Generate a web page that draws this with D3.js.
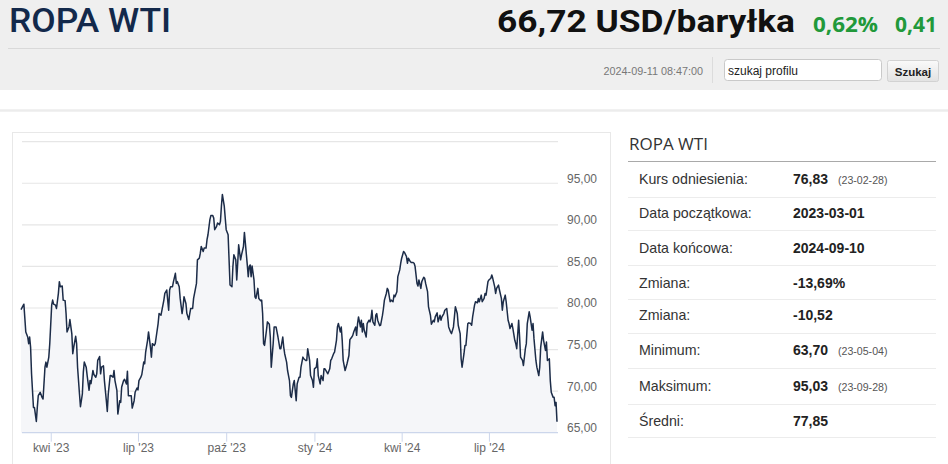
<!DOCTYPE html>
<html><head><meta charset="utf-8">
<script src="https://cdn.jsdelivr.net/npm/d3@7"></script>
<style>html,body{margin:0;padding:0;background:#fff;overflow:hidden}</style>
</head><body><div id="c"></div>
<script>
const dates = [
"2023-03-01","2023-03-04","2023-03-06","2023-03-08","2023-03-09","2023-03-10","2023-03-11","2023-03-12","2023-03-14","2023-03-15","2023-03-17","2023-03-18","2023-03-19","2023-03-21","2023-03-23","2023-03-24","2023-03-26","2023-03-27","2023-03-28","2023-03-30","2023-03-31",
"2023-04-02","2023-04-03","2023-04-04","2023-04-06","2023-04-07","2023-04-09","2023-04-10","2023-04-11","2023-04-13","2023-04-14","2023-04-16","2023-04-17","2023-04-18","2023-04-20","2023-04-21","2023-04-23","2023-04-24","2023-04-25","2023-04-27","2023-04-28","2023-04-29",
"2023-05-01","2023-05-02","2023-05-04","2023-05-05","2023-05-06","2023-05-08","2023-05-09","2023-05-11","2023-05-12","2023-05-13","2023-05-15","2023-05-16","2023-05-18","2023-05-19","2023-05-20","2023-05-22","2023-05-23","2023-05-24","2023-05-26","2023-05-27","2023-05-29","2023-05-30","2023-05-31",
"2023-06-02","2023-06-03","2023-06-05","2023-06-06","2023-06-07","2023-06-09","2023-06-10","2023-06-12","2023-06-13","2023-06-14","2023-06-16","2023-06-17","2023-06-19","2023-06-20","2023-06-21","2023-06-23","2023-06-24","2023-06-25","2023-06-27","2023-06-28","2023-06-30",
"2023-07-01","2023-07-02","2023-07-04","2023-07-05","2023-07-07","2023-07-08","2023-07-09","2023-07-11","2023-07-12","2023-07-14","2023-07-15","2023-07-16","2023-07-18","2023-07-19","2023-07-20","2023-07-22","2023-07-23","2023-07-25","2023-07-26","2023-07-28","2023-07-29","2023-07-31",
"2023-08-01","2023-08-02","2023-08-03","2023-08-04","2023-08-06","2023-08-07","2023-08-09","2023-08-10","2023-08-11","2023-08-13","2023-08-14","2023-08-16","2023-08-17","2023-08-18","2023-08-20","2023-08-21","2023-08-23","2023-08-24","2023-08-25","2023-08-27","2023-08-28","2023-08-29","2023-08-31",
"2023-09-01","2023-09-03","2023-09-04","2023-09-05","2023-09-07","2023-09-08","2023-09-10","2023-09-11","2023-09-12","2023-09-14","2023-09-15","2023-09-17","2023-09-18","2023-09-19","2023-09-21","2023-09-22","2023-09-24","2023-09-25","2023-09-26","2023-09-27","2023-09-29","2023-09-30",
"2023-10-01","2023-10-03","2023-10-04","2023-10-05","2023-10-07","2023-10-08","2023-10-09","2023-10-11","2023-10-12","2023-10-13","2023-10-14","2023-10-16","2023-10-17","2023-10-19","2023-10-20","2023-10-21","2023-10-23","2023-10-24","2023-10-25","2023-10-26","2023-10-27","2023-10-28","2023-10-30","2023-10-31",
"2023-11-01","2023-11-03","2023-11-04","2023-11-06","2023-11-07","2023-11-08","2023-11-09","2023-11-10","2023-11-12","2023-11-13","2023-11-15","2023-11-16","2023-11-17","2023-11-19","2023-11-20","2023-11-22","2023-11-23","2023-11-24","2023-11-26","2023-11-27","2023-11-29","2023-11-30",
"2023-12-01","2023-12-03","2023-12-04","2023-12-06","2023-12-07","2023-12-08","2023-12-10","2023-12-11","2023-12-13","2023-12-14","2023-12-16","2023-12-17","2023-12-18","2023-12-20","2023-12-21","2023-12-23","2023-12-24","2023-12-25","2023-12-27","2023-12-28","2023-12-30","2023-12-31",
"2024-01-01","2024-01-03","2024-01-04","2024-01-05","2024-01-07","2024-01-08","2024-01-10","2024-01-11","2024-01-12","2024-01-14","2024-01-15","2024-01-17","2024-01-18","2024-01-19","2024-01-21","2024-01-22","2024-01-24","2024-01-25","2024-01-26","2024-01-28","2024-01-29","2024-01-30","2024-01-31",
"2024-02-02","2024-02-03","2024-02-04","2024-02-06","2024-02-07","2024-02-09","2024-02-10","2024-02-11","2024-02-13","2024-02-14","2024-02-15","2024-02-16","2024-02-18","2024-02-19","2024-02-20","2024-02-21","2024-02-22","2024-02-24","2024-02-25","2024-02-27","2024-02-28","2024-02-29",
"2024-03-01","2024-03-02","2024-03-04","2024-03-05","2024-03-06","2024-03-07","2024-03-09","2024-03-10","2024-03-12","2024-03-13","2024-03-14","2024-03-16","2024-03-17","2024-03-18","2024-03-20","2024-03-21","2024-03-23","2024-03-24","2024-03-25","2024-03-27","2024-03-28","2024-03-30","2024-03-31",
"2024-04-01","2024-04-03","2024-04-04","2024-04-06","2024-04-07","2024-04-08","2024-04-10","2024-04-11","2024-04-13","2024-04-14","2024-04-15","2024-04-17","2024-04-18","2024-04-19","2024-04-21","2024-04-22","2024-04-24","2024-04-25","2024-04-26","2024-04-28","2024-04-29",
"2024-05-01","2024-05-02","2024-05-04","2024-05-05","2024-05-06","2024-05-08","2024-05-09","2024-05-11","2024-05-12","2024-05-13","2024-05-15","2024-05-16","2024-05-18","2024-05-19","2024-05-20","2024-05-22","2024-05-23","2024-05-25","2024-05-26","2024-05-27","2024-05-29","2024-05-30",
"2024-06-01","2024-06-02","2024-06-03","2024-06-05","2024-06-06","2024-06-07","2024-06-09","2024-06-10","2024-06-12","2024-06-13","2024-06-14","2024-06-16","2024-06-17","2024-06-19","2024-06-20","2024-06-21","2024-06-23","2024-06-24","2024-06-26","2024-06-27","2024-06-28","2024-06-30",
"2024-07-01","2024-07-03","2024-07-04","2024-07-05","2024-07-07","2024-07-08","2024-07-09","2024-07-11","2024-07-12","2024-07-14","2024-07-15","2024-07-16","2024-07-18","2024-07-19","2024-07-21","2024-07-22","2024-07-23","2024-07-25","2024-07-26","2024-07-28","2024-07-29","2024-07-30",
"2024-08-01","2024-08-02","2024-08-03","2024-08-05","2024-08-06","2024-08-08","2024-08-09","2024-08-10","2024-08-12","2024-08-13","2024-08-15","2024-08-16","2024-08-17","2024-08-19","2024-08-20","2024-08-22","2024-08-23","2024-08-24","2024-08-26","2024-08-27","2024-08-29","2024-08-30","2024-08-31",
"2024-09-02","2024-09-03","2024-09-04","2024-09-06","2024-09-07","2024-09-08","2024-09-09","2024-09-10"
];
const prices = [
79.8,80.46,77.12,76.51,75.71,76.51,75.30,72.08,68.04,68.04,66.35,68.04,69.45,69.86,69.25,69.05,72.88,73.49,72.88,74.09,75.71,
80.34,80.95,80.46,80.34,79.94,81.76,83.17,82.56,82.64,80.95,80.87,79.33,77.12,77.72,78.61,76.92,74.50,75.30,76.59,75.71,72.88,
69.66,68.12,69.66,72.28,73.49,72.88,71.87,70.10,71.27,70.90,72.48,72.00,71.67,72.08,73.69,74.17,72.08,72.88,73.04,71.27,68.85,67.56,69.66,
71.87,71.87,71.67,72.48,71.27,70.10,67.24,68.85,68.65,70.50,71.27,71.43,70.85,72.40,69.45,69.45,69.45,67.96,68.85,69.86,70.38,
70.14,71.27,71.67,72.00,73.49,73.29,74.70,76.11,77.12,75.30,74.09,75.71,75.50,75.71,76.51,78.13,79.33,79.13,79.73,80.95,81.75,82.16,
80.95,79.73,82.16,82.56,82.56,83.17,84.17,82.96,83.17,82.56,81.15,79.33,80.14,81.35,80.54,79.33,78.61,79.33,79.94,79.94,81.15,81.75,82.96,
85.79,85.99,86.59,87.40,86.79,87.20,87.20,88.21,88.81,90.63,91.11,91.11,90.83,89.42,89.82,90.22,90.02,90.42,92.24,93.65,92.24,90.83,
89.42,88.81,85.79,82.76,82.56,84.98,86.39,85.79,83.37,85.38,87.60,85.79,86.39,87.40,89.09,87.80,85.18,83.77,84.98,85.18,83.77,85.06,83.37,81.35,
81.15,82.36,81.15,80.87,80.95,79.33,75.71,75.50,77.32,78.33,78.04,76.51,72.88,75.71,77.72,77.72,77.12,76.51,75.10,75.10,76.51,75.30,
74.50,73.49,72.48,71.27,69.45,69.25,70.87,71.27,68.85,70.87,71.67,71.67,72.88,74.09,73.89,73.69,73.69,75.10,73.69,71.87,71.27,70.46,
72.68,72.88,73.89,71.87,70.87,71.87,71.27,72.68,72.68,72.28,72.08,72.68,73.69,73.89,74.50,74.70,76.11,77.72,78.13,77.12,77.72,76.11,73.69,
72.48,72.88,73.29,74.29,76.19,76.51,76.71,77.12,77.72,76.71,78.13,78.93,77.72,78.53,77.12,78.13,77.32,76.51,78.13,78.53,78.33,78.73,
79.73,78.33,77.92,79.13,79.33,78.53,77.88,77.92,79.13,79.94,80.95,81.75,82.36,82.16,80.75,80.95,80.75,81.55,81.35,81.96,83.77,84.58,85.38,
85.99,86.79,86.67,86.19,85.38,85.99,85.58,85.46,85.46,85.38,84.98,82.96,82.64,83.37,82.36,83.17,83.69,83.57,82.96,81.96,80.14,
79.13,78.04,78.53,78.33,78.93,79.42,78.33,79.13,78.53,78.93,79.33,79.73,79.94,78.93,77.72,77.12,76.92,77.72,78.93,80.14,79.33,77.92,
76.92,73.89,72.88,74.50,75.50,75.50,78.13,78.21,78.13,77.92,78.93,80.34,80.75,80.62,81.15,80.75,81.55,80.75,81.15,81.75,81.55,83.17,
83.37,83.57,83.97,83.57,82.56,81.75,82.36,82.76,82.16,81.15,79.73,80.75,81.55,80.75,78.53,78.13,77.52,78.13,77.52,76.11,75.71,75.10,
78.53,76.51,74.09,73.69,73.08,75.10,75.71,78.13,79.54,78.93,77.32,78.13,76.31,73.69,72.88,71.87,72.88,75.30,77.12,76.11,74.90,75.91,73.69,
73.89,71.27,69.86,69.25,69.25,68.24,68.65,66.31
];
const tickDates = ["2023-04-01","2023-07-01","2023-10-01","2024-01-01","2024-04-01","2024-07-01"];
const tickLabels = ["kwi '23","lip '23","paź '23","sty '24","kwi '24","lip '24"];
const gridValues = [70,75,80,85,90,95,100];
const yLabelValues = [65,70,75,80,85,90,95];
const statLabels = ["Kurs odniesienia:","Data początkowa:","Data końcowa:","Zmiana:","Zmiana:","Minimum:","Maksimum:","Średni:"];
const statValues = ["76,83","2023-03-01","2024-09-10","-13,69%","-10,52","63,70","95,03","77,85"];
const statNotes = ["(23-02-28)","","","","","(23-05-04)","(23-09-28)",""];
const instrumentName = "ROPA WTI";
const lastPrice = "66,72 USD/baryłka";
const changePct = "0,62%";
const changeAbs = "0,41";
const timestamp = "2024-09-11 08:47:00";

const W = 948, H = 464;
const parse = d3.utcParse("%Y-%m-%d");
const data = dates.map((d, i) => ({ date: parse(d), v: prices[i] }));

const svg = d3.select("#c").append("svg").attr("width", W).attr("height", H).style("display", "block");
const sans = "'Liberation Sans', Arial, sans-serif";
const head = "Roboto, 'Open Sans', sans-serif";
const head2 = "'Open Sans', 'DejaVu Sans', sans-serif";

// ---------- header ----------
svg.append("rect").attr("x", 0).attr("y", 0).attr("width", W).attr("height", 90).attr("fill", "#efefef");
svg.append("text").attr("x", 9).attr("y", 32.3).text(instrumentName)
  .attr("font-family", head).attr("font-weight", 500).attr("font-size", 34).attr("fill", "#13294b")
  .attr("textLength", 162).attr("lengthAdjust", "spacingAndGlyphs");
svg.append("text").attr("x", 497).attr("y", 31.7).text(lastPrice)
  .attr("font-family", head).attr("font-weight", 700).attr("font-size", 31).attr("fill", "#111")
  .attr("textLength", 298).attr("lengthAdjust", "spacingAndGlyphs");
svg.append("text").attr("x", 813).attr("y", 31.5).text(changePct)
  .attr("font-family", head2).attr("font-weight", 700).attr("font-size", 22).attr("fill", "#21993a")
  .attr("textLength", 65).attr("lengthAdjust", "spacingAndGlyphs");
svg.append("text").attr("x", 895).attr("y", 31.5).text(changeAbs)
  .attr("font-family", head2).attr("font-weight", 700).attr("font-size", 22).attr("fill", "#21993a")
  .attr("textLength", 42).attr("lengthAdjust", "spacingAndGlyphs");
svg.append("line").attr("x1", 8).attr("x2", 940).attr("y1", 48.5).attr("y2", 48.5).attr("stroke", "#d9d9d9");
svg.append("text").attr("x", 703).attr("y", 74.5).attr("text-anchor", "end").text(timestamp)
  .attr("font-family", sans).attr("font-size", 10.8).attr("fill", "#777");
svg.append("line").attr("x1", 712.5).attr("x2", 712.5).attr("y1", 57).attr("y2", 83).attr("stroke", "#dcdcdc");
svg.append("rect").attr("x", 724.5).attr("y", 59.5).attr("width", 157).attr("height", 21).attr("rx", 3)
  .attr("fill", "#fff").attr("stroke", "#c9c9c9");
svg.append("text").attr("x", 728).attr("y", 74.5).text("szukaj profilu")
  .attr("font-family", sans).attr("font-size", 12).attr("fill", "#222");
const defs = svg.append("defs");
const g1 = defs.append("linearGradient").attr("id", "btn").attr("x1", 0).attr("x2", 0).attr("y1", 0).attr("y2", 1);
g1.append("stop").attr("offset", "0").attr("stop-color", "#fafafa");
g1.append("stop").attr("offset", "1").attr("stop-color", "#e2e2e2");
svg.append("rect").attr("x", 887.5).attr("y", 60.5).attr("width", 51).attr("height", 21).attr("rx", 2)
  .attr("fill", "url(#btn)").attr("stroke", "#d2d2d2");
svg.append("text").attr("x", 913).attr("y", 75.5).attr("text-anchor", "middle").text("Szukaj")
  .attr("font-family", sans).attr("font-weight", 700).attr("font-size", 11.5).attr("fill", "#222");
svg.append("line").attr("x1", 0).attr("x2", W).attr("y1", 110.5).attr("y2", 110.5).attr("stroke", "#ececec").attr("stroke-width", 2.5);

// ---------- chart box ----------
svg.append("rect").attr("x", 12.5).attr("y", 132.5).attr("width", 598).attr("height", 345)
  .attr("fill", "#fff").attr("stroke", "#e8e8e8");

const plotL = 22, plotR = 558;
const x = d3.scaleUtc().domain([parse("2023-03-01"), parse("2024-09-10")]).range([21, 557]);
const y = d3.scaleLinear().domain([65, 100]).range([432.7, 141.7]);

const grid = svg.append("g");
grid.selectAll("line").data(gridValues).join("line")
  .attr("x1", plotL).attr("x2", plotR).attr("y1", d => y(d)).attr("y2", d => y(d))
  .attr("stroke", "#e6e6e6").attr("stroke-width", 1.2);

const area = d3.area().x(d => x(d.date)).y0(y(65)).y1(d => y(d.v));
svg.append("path").datum(data).attr("d", area).attr("fill", "#f5f6f9");
const line = d3.line().x(d => x(d.date)).y(d => y(d.v));
svg.append("path").datum(data).attr("d", line).attr("fill", "none")
  .attr("stroke", "#1c2c48").attr("stroke-width", 1.5).attr("stroke-linejoin", "round");

// x axis
svg.append("line").attr("x1", plotL).attr("x2", plotR).attr("y1", y(65)).attr("y2", y(65))
  .attr("stroke", "#ccd6eb").attr("stroke-width", 1.2);
const xAxis = d3.axisBottom(x).tickValues(tickDates.map(parse))
  .tickFormat((d, i) => tickLabels[i]).tickSize(9).tickSizeOuter(0);
const gx = svg.append("g").attr("transform", `translate(0,${y(65)})`).call(xAxis);
gx.select(".domain").remove();
gx.selectAll(".tick line").attr("stroke", "#ccd6eb");
gx.selectAll(".tick text").attr("y", 19).attr("dy", 0)
  .attr("font-family", sans).attr("font-size", 12).attr("fill", "#666");

// y labels
const yAxis = d3.axisRight(y).tickValues(yLabelValues)
  .tickFormat(d => d3.format(".2f")(d).replace(".", ",")).tickSize(0).tickPadding(9);
const gy = svg.append("g").attr("transform", `translate(${plotR},0)`).call(yAxis);
gy.select(".domain").remove();
gy.selectAll(".tick text").attr("dy", -1)
  .attr("font-family", sans).attr("font-size", 12).attr("fill", "#666");

// ---------- side panel ----------
svg.append("text").attr("x", 629).attr("y", 150).text(instrumentName)
  .attr("font-family", head2).attr("font-size", 17).attr("fill", "#333");
svg.append("line").attr("x1", 628).attr("x2", 936).attr("y1", 161.5).attr("y2", 161.5)
  .attr("stroke", "#a9a9a9").attr("stroke-width", 1.2);
const rowBase = [184.3, 218.3, 252.7, 288.3, 320, 355, 390.7, 426];
const rowSep = [197.5, 230.5, 265.5, 299.5, 333.5, 368.5, 404.5, 437.5];
const rows = svg.append("g");
rows.selectAll("line").data(rowSep).join("line")
  .attr("x1", 628).attr("x2", 936).attr("y1", d => d).attr("y2", d => d).attr("stroke", "#ececec");
rows.selectAll("text.lab").data(statLabels).join("text").attr("class", "lab")
  .attr("x", 639).attr("y", (d, i) => rowBase[i]).text(d => d)
  .attr("font-family", sans).attr("font-size", 14.2).attr("fill", "#333");
rows.selectAll("text.val").data(statValues).join("text").attr("class", "val")
  .attr("x", 793).attr("y", (d, i) => rowBase[i]).text(d => d)
  .attr("font-family", sans).attr("font-weight", 700).attr("font-size", 14).attr("fill", "#222");
rows.selectAll("text.note").data(statNotes).join("text").attr("class", "note")
  .attr("x", 838).attr("y", (d, i) => rowBase[i]).text(d => d)
  .attr("font-family", sans).attr("font-size", 10.6).attr("fill", "#555");
</script></body></html>
